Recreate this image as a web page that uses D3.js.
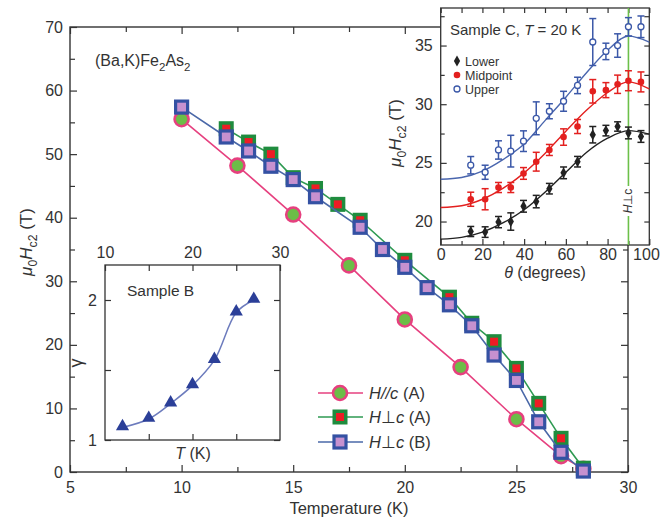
<!DOCTYPE html>
<html><head><meta charset="utf-8">
<script src="https://cdn.jsdelivr.net/npm/d3@7"></script>
<style>
body{margin:0;background:#fff}
text{font-family:"Liberation Sans",Arial,Helvetica,sans-serif;fill:#333}
.tick line{stroke:#333}
</style></head>
<body><svg width="660" height="522"></svg>
<script>
// ---------- main chart data ----------
const tempParA  = [10, 12.5, 15, 17.5, 20, 22.5, 25, 27, 28];
const hParA     = [55.5, 48.2, 40.5, 32.5, 24.0, 16.5, 8.3, 2.5, 0.5];
const tempPerpA = [12, 13, 14, 15, 16, 17, 18, 20, 22, 23, 24, 25, 26, 27, 28];
const hPerpA    = [54.0, 51.9, 50.0, 46.3, 44.6, 42.1, 39.6, 33.3, 27.5, 23.4, 20.5, 16.3, 10.8, 5.3, 0.6];
const tempPerpB = [10, 12, 13, 14, 15, 16, 18, 19, 20, 21, 22, 23, 24, 25, 26, 27, 28];
const hPerpB    = [57.4, 52.7, 50.5, 48.1, 46.0, 43.3, 38.5, 35.0, 32.2, 29.0, 26.3, 23.0, 18.4, 14.4, 7.9, 3.1, 0.15];
const xMajor = [5, 10, 15, 20, 25, 30];
const xMinor = [7.5, 12.5, 17.5, 22.5, 27.5];
const yMajor = [0, 10, 20, 30, 40, 50, 60, 70];
const yMinor = [5, 15, 25, 35, 45, 55, 65];
const legendLabels = [["H", "//", "c", " (A)"], ["H", "⊥", "c", " (A)"], ["H", "⊥", "c", " (B)"]];

// ---------- inset B data ----------
const tempB  = [12, 15, 17.5, 20, 22.5, 25, 27];
const gammaB = [1.09, 1.15, 1.26, 1.39, 1.57, 1.91, 2.0];
const bxTicks = [10, 15, 20, 25, 30];
const bxLabels = [10, 20, 30];
const byTicks = [1, 1.5, 2];
const byLabels = [1, 2];

// ---------- inset C data ----------
const thetaC = [14.4, 21.3, 27.7, 33.6, 39.7, 45.8, 52.1, 58.9, 65.6, 72.9, 79.2, 84.8, 90, 96.0];
const lowerC = [19.15, 19.1, 19.95, 20.0, 21.3, 21.7, 22.8, 24.15, 25.1, 27.4, 27.75, 28.1, 27.55, 27.25];
const lowerErr = [0.43, 0.45, 0.48, 0.74, 0.5, 0.53, 0.45, 0.5, 0.45, 0.7, 0.45, 0.4, 0.5, 0.5];
const midC = [21.9, 21.9, 22.9, 22.9, 24.1, 25.1, 26.1, 27.2, 28.1, 31.1, 31.2, 31.7, 32.0, 31.9];
const midErr = [0.6, 0.9, 0.43, 0.43, 0.5, 0.8, 0.47, 0.7, 0.6, 1.0, 0.64, 0.78, 0.85, 0.85];
const upperC = [24.8, 24.2, 26.1, 26.0, 26.85, 28.8, 29.4, 30.25, 31.6, 35.3, 34.5, 35.0, 36.6, 36.6];
const upperErr = [0.74, 0.6, 0.78, 1.35, 0.88, 1.4, 0.64, 0.85, 0.7, 2.0, 0.7, 1.0, 0.78, 0.92];
const fitTheta = [0, 10, 20, 30, 40, 50, 60, 70, 80, 90, 100];
const fitLower = [18.5, 18.65, 19.1, 19.9, 21.0, 22.5, 24.2, 25.9, 27.1, 27.75, 27.45];
const fitMid   = [21.2, 21.35, 21.9, 22.85, 24.15, 25.8, 27.7, 29.5, 31.0, 31.9, 31.3];
const fitUpper = [23.6, 23.75, 24.3, 25.3, 26.6, 28.6, 30.6, 32.7, 34.6, 35.8, 35.3];
const cxMajor = [0, 20, 40, 60, 80, 100];
const cxMinor = [10, 30, 50, 70, 90];
const cyMajor = [20, 25, 30, 35];
const cyMinor = [22.5, 27.5, 32.5, 37.5];
const cLegend = ["Lower", "Midpoint", "Upper"];

const svg = d3.select("svg");
const INK = "#333";

function rich(g, x, y, parts, size, anchor, rotate) {
  const t = g.append("text").attr("x", x).attr("y", y).attr("font-size", size)
    .attr("text-anchor", anchor || "start");
  if (rotate) t.attr("transform", `rotate(${rotate},${x},${y})`);
  parts.forEach(p => {
    const s = t.append("tspan").text(p.t);
    if (p.i) s.attr("font-style", "italic");
    if (p.sub) s.attr("font-size", size * 0.72).attr("dy", size * 0.3);
    if (p.back) s.attr("dy", -size * 0.3);
  });
  return t;
}
function styleAxis(g) {
  g.select(".domain").remove();
  g.selectAll(".tick line").attr("stroke", INK).attr("stroke-width", 1.2);
  g.selectAll(".tick text").attr("fill", INK);
}

// ================= MAIN =================
const x = d3.scaleLinear([5, 30], [70, 628]);
const y = d3.scaleLinear([0, 70], [472, 27]);
const gm = svg.append("g");
gm.append("rect").attr("x", x(5)).attr("y", y(70)).attr("width", x(30) - x(5)).attr("height", y(0) - y(70))
  .attr("fill", "none").attr("stroke", INK).attr("stroke-width", 1.4);

gm.append("g").attr("transform", `translate(0,${y(0)})`)
  .call(d3.axisBottom(x).tickValues(xMajor).tickSize(-7).tickPadding(10).tickFormat(d3.format("d")))
  .call(styleAxis).selectAll("text").attr("font-size", 16);
gm.append("g").attr("transform", `translate(0,${y(0)})`)
  .call(d3.axisBottom(x).tickValues(xMinor).tickSize(-5).tickFormat("")).call(styleAxis);
gm.append("g").attr("transform", `translate(0,${y(70)})`)
  .call(d3.axisTop(x).tickValues(xMajor).tickSize(-7).tickFormat("")).call(styleAxis);
gm.append("g").attr("transform", `translate(0,${y(70)})`)
  .call(d3.axisTop(x).tickValues(xMinor).tickSize(-5).tickFormat("")).call(styleAxis);
gm.append("g").attr("transform", `translate(${x(5)},0)`)
  .call(d3.axisLeft(y).tickValues(yMajor).tickSize(-7).tickPadding(7).tickFormat(d3.format("d")))
  .call(styleAxis).selectAll("text").attr("font-size", 16);
gm.append("g").attr("transform", `translate(${x(5)},0)`)
  .call(d3.axisLeft(y).tickValues(yMinor).tickSize(-5).tickFormat("")).call(styleAxis);
gm.append("g").attr("transform", `translate(${x(30)},0)`)
  .call(d3.axisRight(y).tickValues(yMajor).tickSize(-7).tickFormat("")).call(styleAxis);
gm.append("g").attr("transform", `translate(${x(30)},0)`)
  .call(d3.axisRight(y).tickValues(yMinor).tickSize(-5).tickFormat("")).call(styleAxis);

gm.append("text").attr("x", 349).attr("y", 514).attr("text-anchor", "middle").attr("font-size", 16.5).text("Temperature (K)");
rich(gm, 32, 242, [{t: "μ", i: 1}, {t: "0", sub: 1}, {t: "H", i: 1, back: 1}, {t: "c2", sub: 1}, {t: " (T)", back: 1}], 17, "middle", -90);
rich(gm, 95, 66, [{t: "(Ba,K)Fe"}, {t: "2", sub: 1}, {t: "As", back: 1}, {t: "2", sub: 1}], 16, "start");

const line = d3.line().x(d => x(d[0])).y(d => y(d[1]));
const PINK = "#e6407f", CGREEN = "#6cbd47", SGREEN = "#1f8c3e", RED = "#ee1c25", BLUE = "#3451a3", LAV = "#c691cf";
const LGREEN = "#2e9a52", LBLUE = "#4a68a8";

const parA = tempParA.map((t, i) => [t, hParA[i]]);
const perpA = tempPerpA.map((t, i) => [t, hPerpA[i]]);
const perpB = tempPerpB.map((t, i) => [t, hPerpB[i]]);

function drawCircle(g, cx, cy) {
  g.append("circle").attr("cx", cx).attr("cy", cy).attr("r", 7).attr("fill", CGREEN).attr("stroke", PINK).attr("stroke-width", 2.6);
}
function drawSqA(g, cx, cy) {
  g.append("rect").attr("x", cx - 7.5).attr("y", cy - 7.5).attr("width", 15).attr("height", 15).attr("fill", SGREEN);
  g.append("rect").attr("x", cx - 4).attr("y", cy - 4).attr("width", 8).attr("height", 8).attr("fill", RED);
}
function drawSqB(g, cx, cy) {
  g.append("rect").attr("x", cx - 6).attr("y", cy - 6).attr("width", 12).attr("height", 12).attr("fill", LAV).attr("stroke", BLUE).attr("stroke-width", 3.2);
}

const gs = gm.append("g");
gs.append("path").attr("d", line(parA)).attr("fill", "none").attr("stroke", PINK).attr("stroke-width", 1.6);
parA.forEach(d => drawCircle(gs, x(d[0]), y(d[1])));
gs.append("path").attr("d", line(perpA)).attr("fill", "none").attr("stroke", LGREEN).attr("stroke-width", 1.6);
perpA.forEach(d => drawSqA(gs, x(d[0]), y(d[1])));
gs.append("path").attr("d", line(perpB)).attr("fill", "none").attr("stroke", LBLUE).attr("stroke-width", 1.6);
perpB.forEach(d => drawSqB(gs, x(d[0]), y(d[1])));

// legend
const gl = gm.append("g");
const legY = [393, 417, 442];
const legCol = [PINK, LGREEN, LBLUE];
const legMark = [drawCircle, drawSqA, drawSqB];
legendLabels.forEach((lab, i) => {
  gl.append("line").attr("x1", 318).attr("x2", 363).attr("y1", legY[i]).attr("y2", legY[i]).attr("stroke", legCol[i]).attr("stroke-width", 1.6);
  legMark[i](gl, 340, legY[i]);
  rich(gl, 369, legY[i] + 6, [{t: lab[0], i: 1}, {t: lab[1], i: lab[1] === "//" ? 1 : 0}, {t: lab[2], i: 1}, {t: lab[3]}], 16.5, "start");
});

// ================= INSET B =================
const bx = d3.scaleLinear([10, 30], [105, 280]);
const by = d3.scaleLinear([1, 2.25], [440, 265]);
const gb = svg.append("g");
gb.append("rect").attr("x", bx(10)).attr("y", by(2.25)).attr("width", bx(30) - bx(10)).attr("height", by(1) - by(2.25))
  .attr("fill", "#fff").attr("stroke", INK).attr("stroke-width", 1.3);
gb.append("g").attr("transform", `translate(0,${by(1)})`)
  .call(d3.axisBottom(bx).tickValues(bxTicks.slice(1, -1)).tickSize(-6).tickFormat("")).call(styleAxis);
gb.append("g").attr("transform", `translate(0,${by(2.25)})`)
  .call(d3.axisTop(bx).tickValues(bxTicks).tickSize(-6).tickPadding(7).tickFormat(d => bxLabels.includes(d) ? d : ""))
  .call(styleAxis).selectAll("text").attr("font-size", 16);
gb.append("g").attr("transform", `translate(${bx(10)},0)`)
  .call(d3.axisLeft(by).tickValues(byTicks).tickSize(-6).tickPadding(8).tickFormat(d => byLabels.includes(d) ? d : ""))
  .call(styleAxis).selectAll("text").attr("font-size", 16);
gb.append("g").attr("transform", `translate(${bx(30)},0)`)
  .call(d3.axisRight(by).tickValues(byTicks).tickSize(-6).tickFormat("")).call(styleAxis);
gb.append("text").attr("x", 127).attr("y", 296).attr("font-size", 15.5).text("Sample B");
gb.append("text").attr("x", 82).attr("y", 363).attr("font-size", 18).attr("text-anchor", "middle")
  .attr("transform", "rotate(-90,82,363)").text("γ");
rich(gb, 193, 459, [{t: "T", i: 1}, {t: " (K)"}], 16, "middle");
const gpts = tempB.map((t, i) => [t, gammaB[i]]);
gb.append("path").attr("d", d3.line().x(d => bx(d[0])).y(d => by(d[1])).curve(d3.curveCatmullRom)(gpts))
  .attr("fill", "none").attr("stroke", "#6c7bbd").attr("stroke-width", 1.5);
gb.selectAll(".tri").data(gpts).join("path")
  .attr("transform", d => `translate(${bx(d[0])},${by(d[1]) - 1})`)
  .attr("d", d3.symbol(d3.symbolTriangle, 75)).attr("fill", "#2b3f98");

// ================= INSET C =================
const cx = d3.scaleLinear([0, 100], [440.7, 649.3]);
const cy = d3.scaleLinear([18, 38.2], [245, 8]);
const gc = svg.append("g");
gc.append("rect").attr("x", cx(0)).attr("y", cy(38.2)).attr("width", cx(100) - cx(0)).attr("height", cy(18) - cy(38.2))
  .attr("fill", "#fff").attr("stroke", INK).attr("stroke-width", 1.3);
const cxAxis = gc.append("g").attr("transform", `translate(0,${cy(18)})`)
  .call(d3.axisBottom(cx).tickValues(cxMajor).tickSize(-6).tickPadding(4).tickFormat(d3.format("d")))
  .call(styleAxis);
cxAxis.selectAll("text").attr("font-size", 16);
cxAxis.selectAll(".tick").filter(d => d === 100).select("text").attr("text-anchor", "end").attr("x", 10);
gc.append("g").attr("transform", `translate(0,${cy(18)})`)
  .call(d3.axisBottom(cx).tickValues(cxMinor).tickSize(-4).tickFormat("")).call(styleAxis);
gc.append("g").attr("transform", `translate(0,${cy(38.2)})`)
  .call(d3.axisTop(cx).tickValues(cxMajor.concat(cxMinor)).tickSize(-5).tickFormat("")).call(styleAxis);
gc.append("g").attr("transform", `translate(${cx(0)},0)`)
  .call(d3.axisLeft(cy).tickValues(cyMajor).tickSize(-6).tickPadding(8).tickFormat(d3.format("d")))
  .call(styleAxis).selectAll("text").attr("font-size", 16);
gc.append("g").attr("transform", `translate(${cx(0)},0)`)
  .call(d3.axisLeft(cy).tickValues(cyMinor).tickSize(-4).tickFormat("")).call(styleAxis);
gc.append("g").attr("transform", `translate(${cx(100)},0)`)
  .call(d3.axisRight(cy).tickValues(cyMajor.concat(cyMinor)).tickSize(-5).tickFormat("")).call(styleAxis);
rich(gc, 545, 278, [{t: "θ", i: 1}, {t: " (degrees)"}], 16, "middle");
rich(gc, 401, 133, [{t: "μ", i: 1}, {t: "0", sub: 1}, {t: "H", i: 1, back: 1}, {t: "c2", sub: 1}, {t: " (T)", back: 1}], 17, "middle", -90);
rich(gc, 450, 35, [{t: "Sample C, "}, {t: "T", i: 1}, {t: " = 20 K"}], 15, "start");

// green H⊥c line
gc.append("line").attr("x1", cx(90)).attr("x2", cx(90)).attr("y1", cy(38.2)).attr("y2", cy(18))
  .attr("stroke", "#6cc04a").attr("stroke-width", 1.6);
gc.append("rect").attr("x", cx(90) - 6).attr("y", 186).attr("width", 12).attr("height", 30).attr("fill", "#fff");
rich(gc, cx(90) + 4, 201, [{t: "H", i: 1}, {t: "⊥c"}], 12, "middle", -90);

const cLine = d3.line().x(d => cx(d[0])).y(d => cy(d[1])).curve(d3.curveMonotoneX);
const COLL = "#222", COLM = "#e3201f", COLU = "#3b58a8";
[[fitLower, COLL], [fitMid, COLM], [fitUpper, "#4a66ae"]].forEach(([v, c]) => {
  gc.append("path").attr("d", cLine(fitTheta.map((t, i) => [t, v[i]]))).attr("fill", "none").attr("stroke", c).attr("stroke-width", 1.4);
});

function errSeries(vals, errs, col, kind) {
  const g = gc.append("g");
  thetaC.forEach((t, i) => {
    const px = cx(t), p1 = cy(vals[i] - errs[i]), p2 = cy(vals[i] + errs[i]);
    g.append("line").attr("x1", px).attr("x2", px).attr("y1", p1).attr("y2", p2).attr("stroke", col).attr("stroke-width", 1.5);
    [p1, p2].forEach(pp => g.append("line").attr("x1", px - 3.5).attr("x2", px + 3.5).attr("y1", pp).attr("y2", pp).attr("stroke", col).attr("stroke-width", 1.5));
    drawCMark(g, px, cy(vals[i]), col, kind);
  });
}
function drawCMark(g, px, py, col, kind) {
  if (kind === 0) g.append("path").attr("transform", `translate(${px},${py})`).attr("d", d3.symbol(d3.symbolDiamond, 34)).attr("fill", col);
  else if (kind === 1) g.append("circle").attr("cx", px).attr("cy", py).attr("r", 3.3).attr("fill", col);
  else g.append("circle").attr("cx", px).attr("cy", py).attr("r", 3).attr("fill", "#fff").attr("stroke", col).attr("stroke-width", 1.3);
}
errSeries(lowerC, lowerErr, COLL, 0);
errSeries(midC, midErr, COLM, 1);
errSeries(upperC, upperErr, COLU, 2);

const legCY = [61, 75, 89];
cLegend.forEach((lab, i) => {
  drawCMark(gc, 457, legCY[i], [COLL, COLM, COLU][i], i);
  gc.append("text").attr("x", 465).attr("y", legCY[i] + 4.5).attr("font-size", 12.5).text(lab);
});
</script></body></html>
